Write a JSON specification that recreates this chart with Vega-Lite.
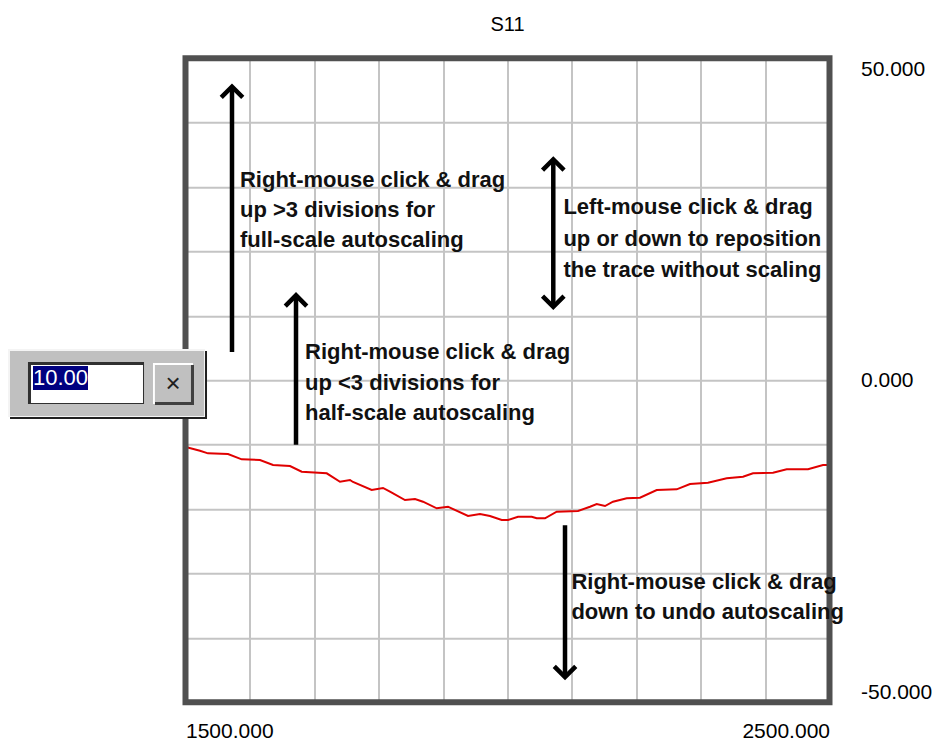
{
  "$schema": "https://vega.github.io/schema/vega-lite/v6.json",
  "width": 644,
  "height": 644,
  "autosize": "none",
  "padding": {"left": 185.5, "top": 58.3, "right": 103.5, "bottom": 42.7},
  "background": "white",
  "config": {"view": {"stroke": null}},
  "title": {"text": "S11", "fontSize": 20, "font": "Liberation Sans", "fontWeight": "normal", "color": "#000000", "frame": "group", "anchor": "middle", "offset": 4, "baseline": "alphabetic"},
  "datasets": {
    "trace": [
      {"x": 1500, "y": -10.4}, {"x": 1501.9, "y": -10.4}, {"x": 1522.5, "y": -10.93}, {"x": 1534.9, "y": -11.34},
      {"x": 1566.0, "y": -11.44}, {"x": 1587.3, "y": -12.27}, {"x": 1615.7, "y": -12.38}, {"x": 1635.9, "y": -13.15},
      {"x": 1662.3, "y": -13.31}, {"x": 1680.4, "y": -14.19}, {"x": 1719.3, "y": -14.44}, {"x": 1739.9, "y": -15.75},
      {"x": 1755.4, "y": -15.48}, {"x": 1760.1, "y": -15.79}, {"x": 1789.1, "y": -17.03}, {"x": 1806.7, "y": -16.72},
      {"x": 1817.5, "y": -17.30}, {"x": 1840.8, "y": -18.59}, {"x": 1856.4, "y": -18.43}, {"x": 1868.8, "y": -18.85},
      {"x": 1890.1, "y": -19.88}, {"x": 1907.6, "y": -19.63}, {"x": 1938.7, "y": -21.07}, {"x": 1957.3, "y": -20.76},
      {"x": 1972.8, "y": -21.07}, {"x": 1991.0, "y": -21.69}, {"x": 2000.8, "y": -21.69}, {"x": 2016.3, "y": -21.18},
      {"x": 2037.6, "y": -21.18}, {"x": 2045.3, "y": -21.43}, {"x": 2058.2, "y": -21.43}, {"x": 2076.4, "y": -20.40},
      {"x": 2109.5, "y": -20.30}, {"x": 2128.1, "y": -19.63}, {"x": 2138.5, "y": -19.21}, {"x": 2151.4, "y": -19.52},
      {"x": 2163.8, "y": -18.85}, {"x": 2185.1, "y": -18.32}, {"x": 2205.7, "y": -18.23}, {"x": 2231.7, "y": -17.03},
      {"x": 2262.7, "y": -16.93}, {"x": 2283.4, "y": -16.10}, {"x": 2311.3, "y": -15.90}, {"x": 2340.4, "y": -15.22},
      {"x": 2365.7, "y": -14.97}, {"x": 2381.2, "y": -14.44}, {"x": 2412.3, "y": -14.35}, {"x": 2433.5, "y": -13.82},
      {"x": 2466.6, "y": -13.82}, {"x": 2489.9, "y": -13.15}, {"x": 2500, "y": -13.15}
    ],
    "frame": [{"x": 1500, "x2": 2500, "y": -50, "y2": 50}],
    "arrows": [
      {"x": 1572.2, "y": 4.4, "y2": 45.6},
      {"x": 1671.6, "y": -10.0, "y2": 13.2},
      {"x": 2071.1, "y": 11.4, "y2": 34.3},
      {"x": 2089.3, "y": -46.1, "y2": -22.5}
    ],
    "heads": [
      {"x": 1572.2, "y": 45.6, "dir": "up"},
      {"x": 1671.6, "y": 13.2, "dir": "up"},
      {"x": 2071.1, "y": 34.3, "dir": "up"},
      {"x": 2071.1, "y": 11.4, "dir": "down"},
      {"x": 2089.3, "y": -46.1, "dir": "down"}
    ],
    "notes": [
      {"x": 1584.6, "y": 31.18, "text": "Right-mouse click & drag"},
      {"x": 1584.6, "y": 26.44, "text": "up >3 divisions for"},
      {"x": 1584.6, "y": 21.71, "text": "full-scale autoscaling"},
      {"x": 1685.6, "y": 4.39, "text": "Right-mouse click & drag"},
      {"x": 1685.6, "y": -0.42, "text": "up <3 divisions for"},
      {"x": 1685.6, "y": -5.08, "text": "half-scale autoscaling"},
      {"x": 2086.8, "y": 26.91, "text": "Left-mouse click & drag"},
      {"x": 2086.8, "y": 21.94, "text": "up or down to reposition"},
      {"x": 2086.8, "y": 17.13, "text": "the trace without scaling"},
      {"x": 2099.2, "y": -31.27, "text": "Right-mouse click & drag"},
      {"x": 2099.2, "y": -35.98, "text": "down to undo autoscaling"}
    ],
    "widget": [
      {"part": "panelShadow", "x": 1227.5, "x2": 1533.4, "y": -6.01, "y2": 4.55},
      {"part": "panelLight", "x": 1224.4, "x2": 1530.3, "y": -5.70, "y2": 4.86},
      {"part": "panelFace", "x": 1227.5, "x2": 1528.7, "y": -5.54, "y2": 4.55},
      {"part": "fieldEdge", "x": 1255.4, "x2": 1435.6, "y": -3.68, "y2": 2.84},
      {"part": "fieldFace", "x": 1260.1, "x2": 1434.0, "y": -3.53, "y2": 2.38},
      {"part": "selection", "x": 1263.2, "x2": 1348.6, "y": -1.51, "y2": 2.22},
      {"part": "buttonLight", "x": 1449.5, "x2": 1511.6, "y": -3.68, "y2": 2.69},
      {"part": "buttonShadow", "x": 1452.6, "x2": 1513.2, "y": -3.84, "y2": 2.38},
      {"part": "buttonFace", "x": 1452.6, "x2": 1508.5, "y": -3.37, "y2": 2.38}
    ],
    "widgetText": [
      {"part": "value", "x": 1263.2, "y": 0.36, "text": "10.00"}
    ],
    "buttonText": [
      {"part": "close", "x": 1480.6, "y": -0.57, "text": "×"}
    ]
  },
  "encoding": {
    "x": {
      "field": "x", "type": "quantitative",
      "scale": {"domain": [1500, 2500], "nice": false, "zero": false},
      "axis": {
        "values": [1500, 1600, 1700, 1800, 1900, 2000, 2100, 2200, 2300, 2400, 2500],
        "grid": true, "gridColor": "#c4c4c4", "gridWidth": 2, "gridOpacity": 1,
        "domain": false, "ticks": false, "title": null,
        "labelExpr": "datum.value == 1500 || datum.value == 2500 ? format(datum.value, '.3f') : ''",
        "labelFlush": true, "labelOverlap": false,
        "labelFont": "Liberation Sans", "labelFontSize": 21, "labelColor": "#000000", "labelPadding": 18
      }
    },
    "y": {
      "field": "y", "type": "quantitative",
      "scale": {"domain": [-50, 50], "nice": false, "zero": false},
      "axis": {
        "orient": "right",
        "values": [-50, -40, -30, -20, -10, 0, 10, 20, 30, 40, 50],
        "grid": true, "gridColor": "#c4c4c4", "gridWidth": 2, "gridOpacity": 1,
        "domain": false, "ticks": false, "title": null,
        "labelExpr": "datum.value == -50 || datum.value == 0 || datum.value == 50 ? replace(format(datum.value, '.3f'), '\u2212', '-') : ''",
        "labelFlush": true, "labelOverlap": false, "labelAlign": "left",
        "labelFont": "Liberation Sans", "labelFontSize": 21, "labelColor": "#000000", "labelPadding": 31
      }
    }
  },
  "layer": [
    {
      "data": {"name": "trace"},
      "mark": {"type": "line", "color": "#e00000", "strokeWidth": 2, "interpolate": "linear"}
    },
    {
      "data": {"name": "frame"},
      "mark": {"type": "rect", "fill": null, "filled": false, "stroke": "#505050", "strokeWidth": 6},
      "encoding": {"x2": {"field": "x2"}, "y2": {"field": "y2"}}
    },
    {
      "data": {"name": "arrows"},
      "mark": {"type": "rule", "color": "#000000", "strokeWidth": 4.5, "strokeCap": "butt"},
      "encoding": {"y2": {"field": "y2"}}
    },
    {
      "data": {"name": "heads"},
      "mark": {"type": "point", "filled": false, "stroke": "#000000", "strokeWidth": 4.5, "size": 640, "opacity": 1, "strokeJoin": "miter"},
      "encoding": {
        "shape": {"field": "dir", "type": "nominal", "legend": null,
          "scale": {"domain": ["up", "down"], "range": ["M-0.85,0.85L0,0L0.85,0.85", "M-0.85,-0.85L0,0L0.85,-0.85"]}}
      }
    },
    {
      "data": {"name": "notes"},
      "mark": {"type": "text", "align": "left", "baseline": "middle", "font": "Liberation Sans", "fontWeight": "bold", "fontSize": 22, "color": "#111111"},
      "encoding": {"text": {"field": "text"}}
    },
    {
      "data": {"name": "widget"},
      "mark": {"type": "rect", "opacity": 1},
      "encoding": {
        "x2": {"field": "x2"}, "y2": {"field": "y2"},
        "fill": {"field": "part", "type": "nominal", "legend": null,
          "scale": {"domain": ["panelShadow", "panelLight", "panelFace", "fieldEdge", "fieldFace", "selection", "buttonLight", "buttonShadow", "buttonFace"],
                    "range": ["#202020", "#f4f4f4", "#c0c0c0", "#303030", "#ffffff", "#000080", "#ffffff", "#404040", "#c0c0c0"]}}
      }
    },
    {
      "data": {"name": "widgetText"},
      "mark": {"type": "text", "align": "left", "baseline": "middle", "font": "Liberation Sans", "fontSize": 22, "color": "#ffffff"},
      "encoding": {"text": {"field": "text"}}
    },
    {
      "data": {"name": "buttonText"},
      "mark": {"type": "text", "align": "center", "baseline": "middle", "font": "Liberation Sans", "fontWeight": "normal", "fontSize": 26, "color": "#202020"},
      "encoding": {"text": {"field": "text"}}
    }
  ]
}
